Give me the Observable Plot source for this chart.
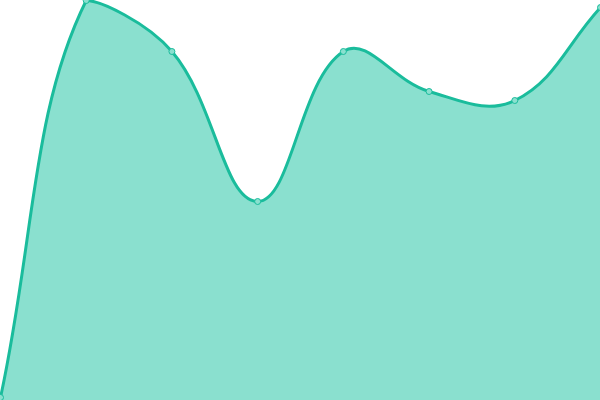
<!DOCTYPE html>
<html><head><meta charset="utf-8">
<script src="https://cdn.jsdelivr.net/npm/d3@7"></script>
<script src="https://cdn.jsdelivr.net/npm/@observablehq/plot@0.6"></script>
<style>body{margin:0;background:#fff}svg{overflow:hidden;display:block}</style>
</head><body><div id="chart"></div>
<script>
const categories = [0, 1, 2, 3, 4, 5, 6, 7];
const values = [3, 400, 349, 199, 349, 309, 300, 393];
const data = categories.map((c, i) => ({x: c, y: values[i]}));

// Spline with tension 0.4 whose control points are capped to the plotting area
function cappedSpline(context) {
  const W = 600, H = 400, T = 0.4;
  const clamp = (v, a, b) => Math.max(a, Math.min(b, v));
  return {
    areaStart() { this._line = 0; },
    areaEnd() { this._line = NaN; },
    lineStart() { this._pts = []; },
    point(x, y) { this._pts.push([+x, +y]); },
    lineEnd() {
      const p = this._pts, n = p.length;
      if (n) {
        if (this._line) context.lineTo(p[0][0], p[0][1]); else context.moveTo(p[0][0], p[0][1]);
        const cps = p.map((cur, i) => {
          const prev = p[i - 1] || cur, next = p[i + 1] || cur;
          const d01 = Math.hypot(cur[0] - prev[0], cur[1] - prev[1]);
          const d12 = Math.hypot(next[0] - cur[0], next[1] - cur[1]);
          let s01 = d01 / (d01 + d12), s12 = d12 / (d01 + d12);
          if (!isFinite(s01)) s01 = 0; if (!isFinite(s12)) s12 = 0;
          const fa = T * s01, fb = T * s12;
          const dx = next[0] - prev[0], dy = next[1] - prev[1];
          return {
            px: clamp(cur[0] - fa * dx, 0, W), py: clamp(cur[1] - fa * dy, 0, H),
            nx: clamp(cur[0] + fb * dx, 0, W), ny: clamp(cur[1] + fb * dy, 0, H)
          };
        });
        for (let i = 1; i < n; i++) {
          context.bezierCurveTo(cps[i - 1].nx, cps[i - 1].ny, cps[i].px, cps[i].py, p[i][0], p[i][1]);
        }
      }
      if (this._line || (this._line !== 0 && n === 1)) context.closePath();
      this._line = 1 - this._line;
    }
  };
}

const chart = Plot.plot({
  width: 600, height: 400, margin: 0,
  x: {domain: [0, 7], axis: null},
  y: {domain: [0, 400], axis: null},
  style: {overflow: "hidden", background: "#fff"},
  marks: [
    Plot.areaY(data, {x: "x", y: "y", curve: cappedSpline, fill: "#8ae0cf"}),
    Plot.lineY(data, {x: "x", y: "y", curve: cappedSpline, stroke: "#1abc9c", strokeWidth: 3}),
    Plot.dot(data, {x: "x", y: "y", r: 3, fill: "#8ae0cf", stroke: "#1abc9c", strokeWidth: 1})
  ]
});
document.getElementById("chart").appendChild(chart);
</script></body></html>
